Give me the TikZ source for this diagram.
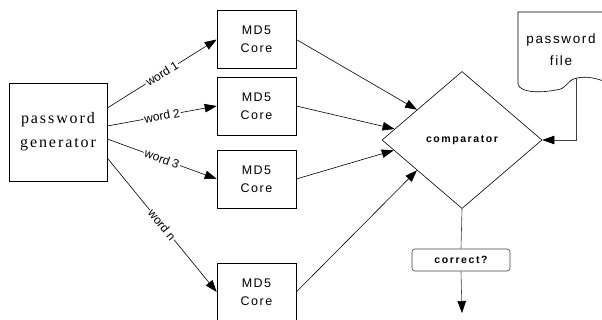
\documentclass[tikz,border=0pt]{standalone}
\usepackage{fontspec}
\setmainfont{Liberation Sans}
\newfontfamily\genfont[LetterSpace=12]{Liberation Serif}
\newfontfamily\corefont[LetterSpace=12]{Liberation Sans}
\newfontfamily\cmpfont[LetterSpace=15]{Liberation Sans}
\usetikzlibrary{shapes.geometric,arrows.meta,calc}

\tikzset{
    core/.style={draw, minimum width=79pt, minimum height=58pt, inner sep=0pt,
        align=center, font=\corefont\fontsize{12.5}{18}\selectfont},
    wordlbl/.style={midway, sloped, fill=white, inner sep=1pt,
        font=\fontsize{12}{14}\selectfont},
    arr/.style={-{Triangle[length=12pt,width=8.5pt,color=black]}},
    grayline/.style={draw=black!75}
}

\begin{document}
\begin{tikzpicture}[x=1pt,y=-1pt,semithick]
    \useasboundingbox (0,0) rectangle (602,320);

    % generator and the cores
    \node[draw, minimum width=98pt, minimum height=98pt, inner sep=0pt, align=center,
        font=\genfont\fontsize{16}{24}\selectfont] (gen) at (58,132) {password\\generator};
    \node[core] (c1) at (256.5,39.5) {MD5\\Core};
    \node[core] (c2) at (256.5,106) {MD5\\Core};
    \node[core] (c3) at (256.5,179) {MD5\\Core};
    \node[core] (c4) at (256.5,292) {MD5\\Core};

    \draw[arr] ([yshift=24pt]gen.east) -- node[wordlbl] {word 1} (c1.west);
    \draw[arr] ([yshift=6pt]gen.east) -- node[wordlbl] {word 2} (c2.west);
    \draw[arr] ([yshift=-7pt]gen.east) -- node[wordlbl] {word 3} (c3.west);
    \draw[arr] ([yshift=-26pt]gen.east) -- node[wordlbl] {word n} (c4.west);

    % comparator
    \node[draw, diamond, minimum width=160pt, minimum height=137pt, inner sep=0pt,
        font=\cmpfont\bfseries\fontsize{10.5}{12}\selectfont] (cmp) at (462,140) {comparator};

    \draw[arr] (c1.east) -- ($(cmp.west)!0.44!(cmp.north)$);
    \draw[arr] (c2.east) -- ($(cmp.west)!0.16!(cmp.north)$);
    \draw[arr] (c3.east) -- ($(cmp.west)!0.15!(cmp.south)$);
    \draw[arr] (c4.east) -- ($(cmp.west)!0.44!(cmp.south)$);

    % password file
    \draw (518,12) -- (606,12) -- (606,82)
        .. controls (596,78) and (586,76) .. (577,78)
        .. controls (566,80) and (568,89) .. (556,90)
        .. controls (540,93) and (520,93) .. (518,84) -- cycle;
    \node[align=center, font=\corefont\fontsize{13.5}{22}\selectfont] (pwf) at (561,50) {password\\file};
    \coordinate (fout) at (576,78);
    \draw[arr, grayline] (fout) |- (cmp.east);

    % result
    \node[draw=black!75, rounded corners=3pt, minimum width=98pt, minimum height=22pt, inner sep=0pt,
        font=\cmpfont\bfseries\fontsize{10.5}{12}\selectfont] (ok) at (461,260) {correct?};
    \coordinate (res) at (462,313);
    \draw[grayline] (cmp.south) -- (ok.north);
    \draw[arr, grayline] (ok.south) -- (res);
\end{tikzpicture}
\end{document}
